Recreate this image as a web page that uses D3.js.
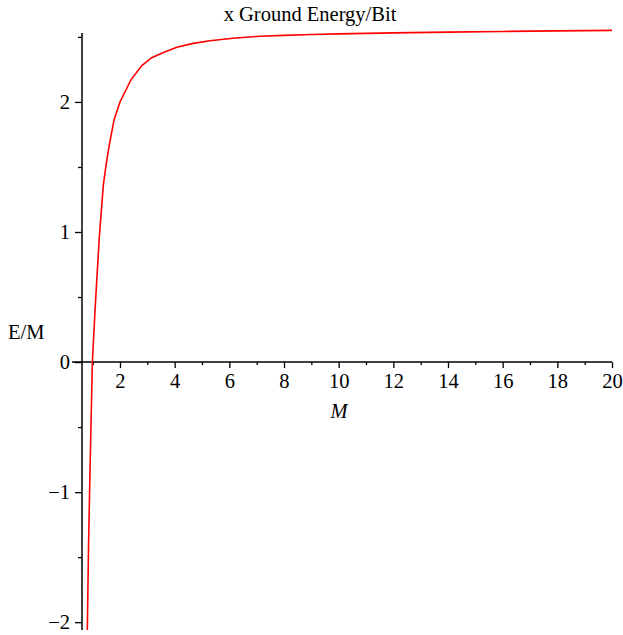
<!DOCTYPE html>
<html>
<head>
<meta charset="utf-8">
<script src="https://cdn.jsdelivr.net/npm/d3@7"></script>
<style>
  html, body { margin: 0; padding: 0; background: #fff; }
  svg text { font-family: "Liberation Serif", "Times New Roman", serif; fill: #000; }
</style>
</head>
<body>
<svg id="chart" width="623" height="635"></svg>
<script>
// ---- data ----
const mValues = [0.78, 0.805, 0.85, 0.904, 0.95, 0.99, 1.087, 1.24, 1.39, 1.5, 1.61, 1.78, 2.0, 2.4, 2.8, 3.16, 3.59, 4.08, 4.68, 5.29, 6.13, 7.12, 8, 9, 10, 12, 14, 16, 18, 20];
const energyPerM = [-2.45, -2.06, -1.4, -0.83, -0.38, 0, 0.40, 0.95, 1.36, 1.53, 1.67, 1.86, 2.0, 2.17, 2.28, 2.34, 2.38, 2.42, 2.45, 2.47, 2.49, 2.505, 2.512, 2.518, 2.523, 2.531, 2.537, 2.542, 2.546, 2.55];
const xMajorTicks = [2, 4, 6, 8, 10, 12, 14, 16, 18, 20];
const xMinorTicks = [1, 3, 5, 7, 9, 11, 13, 15, 17, 19];
const yMajorTicks = [-2, -1, 0, 1, 2];
const yMinorTicks = [-1.5, -0.5, 0.5, 1.5, 2.5];
const titleText = "x Ground Energy/Bit";
const xLabel = "M";
const yLabel = "E/M";

const FS = 20.5;
const svg = d3.select("#chart");
const x = d3.scaleLinear().domain([0.61, 20]).range([82, 612]);
const y = d3.scaleLinear().domain([-2.06, 2.53]).range([630, 33]);

svg.append("defs").append("clipPath").attr("id", "clip")
  .append("rect").attr("x", 82).attr("y", 28).attr("width", 540).attr("height", 602);

const fmt = d => d < 0 ? "\u2212" + Math.abs(d) : String(d);

// x axis (through y=0)
const gx = svg.append("g").attr("transform", `translate(0,${y(0)})`)
  .call(d3.axisBottom(x).tickValues(xMajorTicks).tickSize(6).tickSizeOuter(0).tickFormat(fmt).tickPadding(5));
gx.select(".domain").remove();
gx.selectAll("line").attr("stroke", "#000").attr("stroke-width", 1.3);
gx.selectAll("text").attr("font-size", FS).style("font-family", "Liberation Serif");
svg.append("g").attr("transform", `translate(0,${y(0)})`)
  .call(d3.axisBottom(x).tickValues(xMinorTicks).tickSize(3).tickFormat(""))
  .call(g => g.select(".domain").remove())
  .selectAll("line").attr("stroke", "#000").attr("stroke-width", 1.3);
svg.append("line").attr("x1", 72).attr("x2", x(20)).attr("y1", y(0)).attr("y2", y(0))
  .attr("stroke", "#000").attr("stroke-width", 1.5);

// y axis (left edge)
const gy = svg.append("g").attr("transform", `translate(82,0)`)
  .call(d3.axisLeft(y).tickValues(yMajorTicks).tickSize(7).tickFormat(fmt).tickPadding(5));
gy.select(".domain").remove();
gy.selectAll("line").attr("stroke", "#000").attr("stroke-width", 1.3);
gy.selectAll("text").attr("font-size", FS).style("font-family", "Liberation Serif");
svg.append("g").attr("transform", `translate(82,0)`)
  .call(d3.axisLeft(y).tickValues(yMinorTicks).tickSize(4).tickFormat(""))
  .call(g => g.select(".domain").remove())
  .selectAll("line").attr("stroke", "#000").attr("stroke-width", 1.3);
svg.append("line").attr("x1", 82).attr("x2", 82).attr("y1", y(2.53)).attr("y2", 630)
  .attr("stroke", "#000").attr("stroke-width", 1.5);

// curve
const line = d3.line().x((d, i) => x(mValues[i])).y(d => y(d));
svg.append("path").datum(energyPerM)
  .attr("clip-path", "url(#clip)")
  .attr("d", line)
  .attr("fill", "none").attr("stroke", "#ff0000").attr("stroke-width", 1.6);

// labels
svg.append("text").attr("x", 310).attr("y", 21).attr("text-anchor", "middle")
  .attr("font-size", FS).text(titleText);
svg.append("text").attr("x", 8).attr("y", 339).attr("font-size", FS).text(yLabel);
svg.append("text").attr("x", 339).attr("y", 418).attr("text-anchor", "middle")
  .attr("font-size", FS).attr("font-style", "italic").text(xLabel);
</script>
</body>
</html>
